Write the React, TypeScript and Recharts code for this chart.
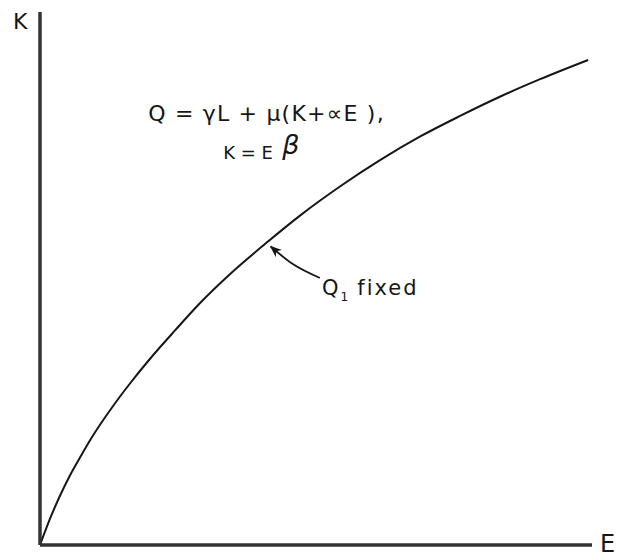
import { LineChart, Line, XAxis, YAxis, ReferenceDot, Label } from "recharts"

// Q1 fixed isoquant, K plotted against E (0-100 scale)
const E_VALUES = [0, 1.8, 3.6, 5.4, 7.3, 9.1, 10.9, 13.6, 16.3, 19.9, 24.5, 29.0, 34.4, 40.8, 47.1, 54.4, 61.6, 68.8, 76.1, 83.3, 90.6, 99.3]
const K_VALUES = [0, 4.9, 9.2, 13.0, 16.5, 19.7, 22.6, 26.6, 30.3, 34.9, 40.3, 45.4, 50.8, 56.5, 61.8, 67.3, 72.2, 76.6, 80.5, 84.1, 87.4, 91.0]

// pointer from the "Q1 fixed" label to the curve
const ARROW_E = [50.7, 45.8, 41.8]
const ARROW_K = [50.1, 52.7, 56.0]

// where the annotations sit, in chart units
const EQ_LINE1 = { e: 19.6, k: 79.5, text: "Q = γL + μ(K+∝E )," }
const EQ_LINE2 = { e: 33.2, k: 72.4, text: "K = E" }
const EQ_BETA = { e: 43.9, k: 73.4, text: "β" }
const CURVE_LABEL = { e: 51.1, k: 46.9 }

const curveData = E_VALUES.map((e, i) => ({ E: e, K: K_VALUES[i] }))
const arrowData = ARROW_E.map((e, i) => ({ E: e, K: ARROW_K[i] }))

const FONT = "'DejaVu Sans', sans-serif"
const INK = "#161616"

function textAt(text: string, size: number, extra: object = {}) {
  return (props: any) => {
    const vb = props.viewBox || {}
    return (
      <text x={vb.x + 1} y={vb.y + 1} fontFamily={FONT} fontSize={size} fill={INK} {...extra}>
        {text}
      </text>
    )
  }
}

function curveLabel(props: any) {
  const vb = props.viewBox || {}
  return (
    <text x={vb.x + 1} y={vb.y + 1} fontFamily={FONT} fontSize={21} fill={INK} letterSpacing={2}>
      Q
      <tspan fontSize={12} dy={6}>1</tspan>
      <tspan dy={-6} dx={7}>fixed</tspan>
    </text>
  )
}

export default function App() {
  return (
    <div style={{ position: "absolute", left: 0, top: 0, background: "#fff" }}>
      <svg width={0} height={0} style={{ position: "absolute" }}>
        <defs>
          <marker id="arrowHead" viewBox="0 0 10 10" refX={9} refY={5} markerWidth={12} markerHeight={12} markerUnits="userSpaceOnUse" orient="auto">
            <path d="M0,1 L10,5 L0,9 L3,5 Z" fill={INK} />
          </marker>
        </defs>
      </svg>
      <LineChart width={621} height={560} data={curveData} margin={{ top: 12, right: 29, bottom: 0, left: 0 }}>
        <XAxis
          dataKey="E"
          type="number"
          domain={[0, 100]}
          allowDataOverflow
          tick={false}
          tickLine={false}
          height={15}
          axisLine={{ stroke: "#333", strokeWidth: 3.5 }}
        >
          <Label
            content={(p: any) => {
              const vb = p.viewBox
              return (
                <text x={vb.x + vb.width + 8} y={vb.y + 7} fontFamily={FONT} fontSize={24} fill={INK}>
                  E
                </text>
              )
            }}
          />
        </XAxis>
        <YAxis
          type="number"
          domain={[0, 100]}
          allowDataOverflow
          tick={false}
          tickLine={false}
          width={40}
          axisLine={{ stroke: "#333", strokeWidth: 3.5 }}
        >
          <Label
            content={(p: any) => {
              const vb = p.viewBox
              return (
                <text x={vb.x + 13} y={vb.y + 17} fontFamily={FONT} fontSize={22} fill={INK}>
                  K
                </text>
              )
            }}
          />
        </YAxis>
        <Line type="monotone" dataKey="K" stroke={INK} strokeWidth={2} dot={false} isAnimationActive={false} />
        <Line
          data={arrowData}
          type="monotone"
          dataKey="K"
          stroke={INK}
          strokeWidth={1.8}
          dot={false}
          markerEnd="url(#arrowHead)"
          isAnimationActive={false}
        />
        <ReferenceDot x={EQ_LINE1.e} y={EQ_LINE1.k} r={1} fill="none" stroke="none">
          <Label content={textAt(EQ_LINE1.text, 22, { letterSpacing: 1.2 })} />
        </ReferenceDot>
        <ReferenceDot x={EQ_LINE2.e} y={EQ_LINE2.k} r={1} fill="none" stroke="none">
          <Label content={textAt(EQ_LINE2.text, 18)} />
        </ReferenceDot>
        <ReferenceDot x={EQ_BETA.e} y={EQ_BETA.k} r={1} fill="none" stroke="none">
          <Label content={textAt(EQ_BETA.text, 27, { fontStyle: "italic" })} />
        </ReferenceDot>
        <ReferenceDot x={CURVE_LABEL.e} y={CURVE_LABEL.k} r={1} fill="none" stroke="none">
          <Label content={curveLabel} />
        </ReferenceDot>
      </LineChart>
    </div>
  )
}
